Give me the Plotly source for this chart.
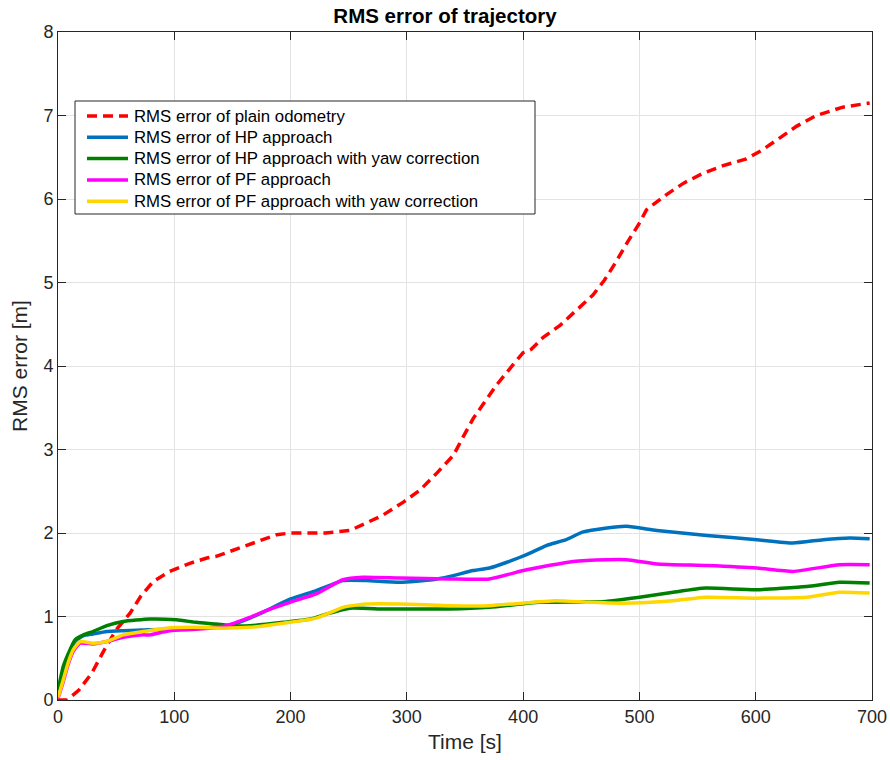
import plotly.graph_objects as go

# ---- data ----
t_odom = [0, 8, 18, 29, 39, 50, 62, 71, 82, 96, 114, 128, 136, 154, 168, 174, 188, 200, 230, 251,
          265, 279, 297, 311, 326, 340, 348, 357, 366, 377, 391, 400, 407, 417, 432, 446, 460, 470,
          480, 490, 500, 506, 523, 538, 555, 572, 592, 606, 621, 635, 652, 675, 698]
v_odom = [0, 0, 0.12, 0.32, 0.58, 0.84, 1.04, 1.24, 1.42, 1.54, 1.64, 1.70, 1.72, 1.81, 1.88, 1.92, 1.98, 2.0, 2.0, 2.03,
          2.12, 2.21, 2.37, 2.51, 2.72, 2.93, 3.14, 3.37, 3.55, 3.77, 4.01, 4.16, 4.2, 4.34, 4.49, 4.67, 4.85, 5.03,
          5.25, 5.49, 5.71, 5.87, 6.05, 6.19, 6.31, 6.4, 6.48, 6.59, 6.73, 6.87, 7.0, 7.1, 7.15]

t_hp = [0, 4.5, 9, 14.6, 22, 30, 42, 56, 79, 102, 122, 145, 165, 179, 200, 222, 245, 265, 294, 322,
        337, 357, 371, 386, 403, 420, 437, 451, 472, 489, 515, 558, 601, 632, 658, 681, 698]
v_hp = [0.1, 0.35, 0.52, 0.70, 0.77, 0.79, 0.82, 0.83, 0.84, 0.85, 0.86, 0.88, 0.98, 1.07, 1.21, 1.31, 1.43, 1.43, 1.41, 1.44,
        1.48, 1.55, 1.58, 1.65, 1.74, 1.85, 1.92, 2.01, 2.06, 2.08, 2.03, 1.97, 1.92, 1.88, 1.92, 1.94, 1.93]

t_hp_yaw = [0, 2, 4.5, 9, 14.6, 22, 30, 42, 56, 79, 102, 119, 136, 150, 165, 194, 217, 231, 251, 280,
            308, 337, 371, 414, 471, 500, 529, 557, 600, 644, 672, 698]
v_hp_yaw = [0.12, 0.25, 0.40, 0.56, 0.72, 0.78, 0.82, 0.89, 0.94, 0.97, 0.96, 0.93, 0.91, 0.89, 0.89, 0.93, 0.97, 1.03, 1.10, 1.09,
            1.09, 1.09, 1.11, 1.17, 1.18, 1.23, 1.29, 1.34, 1.32, 1.36, 1.41, 1.40]

t_pf = [0, 4.5, 8.6, 13, 19, 30, 42, 56, 73, 79, 96, 122, 145, 165, 179, 199.5, 222, 245, 262, 294,
        337, 371, 403, 443, 472, 489, 515, 558, 601, 632, 672, 698]
v_pf = [0.02, 0.22, 0.42, 0.58, 0.68, 0.67, 0.70, 0.75, 0.78, 0.78, 0.83, 0.85, 0.89, 0.99, 1.07, 1.17, 1.27, 1.44, 1.47, 1.46,
        1.45, 1.45, 1.56, 1.66, 1.68, 1.68, 1.63, 1.61, 1.58, 1.54, 1.62, 1.62]

t_pf_yaw = [0, 4.5, 8.6, 13, 19, 30, 42, 56, 73, 93, 116, 142, 165, 194, 222, 245, 265, 294, 337, 371,
            428, 457, 486, 529, 557, 600, 644, 672, 698]
v_pf_yaw = [0.03, 0.24, 0.44, 0.6, 0.70, 0.68, 0.70, 0.78, 0.82, 0.86, 0.87, 0.86, 0.87, 0.92, 0.98, 1.11, 1.15, 1.15, 1.13, 1.13,
            1.19, 1.17, 1.16, 1.19, 1.23, 1.22, 1.23, 1.29, 1.28]

names = ["RMS error of plain odometry",
         "RMS error of HP approach",
         "RMS error of HP approach with yaw correction",
         "RMS error of PF approach",
         "RMS error of PF approach with yaw correction"]
colors = ["#FF0000", "#0072BD", "#008000", "#FF00FF", "#FFD700"]
dashes = ["10px,6px", "solid", "solid", "solid", "solid"]

x_ticks = [0, 100, 200, 300, 400, 500, 600, 700]
y_ticks = [0, 1, 2, 3, 4, 5, 6, 7, 8]

FONT = "Liberation Sans, Arial, Helvetica, sans-serif"
AX = "#262626"
W, H = 890, 760
ML, MR, MT, MB = 58, 18, 32, 60
PW, PH = W - ML - MR, H - MT - MB

series = [(t_odom, v_odom), (t_hp, v_hp), (t_hp_yaw, v_hp_yaw), (t_pf, v_pf), (t_pf_yaw, v_pf_yaw)]

fig = go.Figure()
for (tx, vy), nm, col, ds in zip(series, names, colors, dashes):
    line = dict(color=col, width=3.5, dash=ds)
    if ds == "solid":
        line.update(shape="spline", smoothing=0.5)
    fig.add_trace(go.Scatter(x=tx, y=vy, mode="lines", name=nm, line=line, showlegend=False))

# legend box (drawn in paper coordinates, pixel layout converted)
def px_x(p):
    return (p - ML) / PW

def px_y(p):
    return (H - MB - p) / PH

shapes = [dict(type="rect", xref="paper", yref="paper",
               x0=px_x(75), x1=px_x(535), y0=px_y(214), y1=px_y(101),
               line=dict(color=AX, width=1), fillcolor="white", layer="above")]
annotations = []
row_y0, row_dy = 116, 21.3
for i, (nm, col, ds) in enumerate(zip(names, colors, dashes)):
    yy = px_y(row_y0 + i * row_dy)
    shapes.append(dict(type="line", xref="paper", yref="paper",
                       x0=px_x(87), x1=px_x(128), y0=yy, y1=yy,
                       line=dict(color=col, width=3.5, dash=ds), layer="above"))
    annotations.append(dict(text=nm, xref="paper", yref="paper", x=px_x(132), y=yy,
                            xanchor="left", yanchor="middle", showarrow=False,
                            font=dict(family=FONT, size=16.8, color="black")))

axis_common = dict(showline=True, linecolor=AX, linewidth=1, mirror="ticks",
                   ticks="inside", ticklen=8, tickcolor=AX, showgrid=True,
                   gridcolor="#E3E3E3", gridwidth=1, zeroline=False, automargin=False,
                   tickfont=dict(family=FONT, size=18, color=AX))

fig.update_layout(
    width=W, height=H,
    margin=dict(l=ML, r=MR, t=MT, b=MB, autoexpand=False),
    paper_bgcolor="white", plot_bgcolor="white",
    title=dict(text="<b>RMS error of trajectory</b>", x=0.5, xanchor="center",
               y=1 - 16 / H, yanchor="middle",
               font=dict(family=FONT, size=20.5, color="black")),
    xaxis=dict(range=[0, 700], tickvals=x_ticks,
               title=dict(text="Time [s]", font=dict(family=FONT, size=21, color=AX), standoff=8),
               **axis_common),
    yaxis=dict(range=[0, 8], tickvals=y_ticks,
               title=dict(text="RMS error [m]", font=dict(family=FONT, size=21, color=AX), standoff=10),
               **axis_common),
    shapes=shapes,
    annotations=annotations,
    showlegend=False,
)

fig.write_html("out.html")
